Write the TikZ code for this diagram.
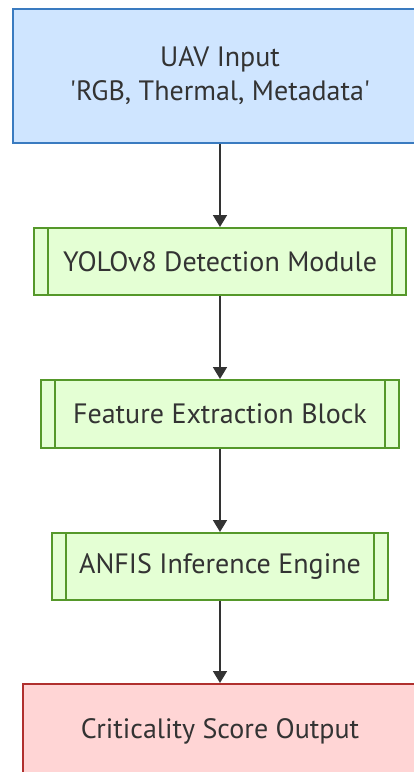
\documentclass[tikz,border=0pt]{standalone}
\usepackage{fontspec}
\setmainfont{PT Sans}
\usetikzlibrary{arrows.meta}
\definecolor{bluefill}{HTML}{CFE5FF}
\definecolor{blueline}{HTML}{3A7BC0}
\definecolor{greenfill}{HTML}{E4FFD4}
\definecolor{greenline}{HTML}{55982A}
\definecolor{redfill}{HTML}{FFD5D5}
\definecolor{redline}{HTML}{B0302E}
\definecolor{ink}{HTML}{333333}
\tikzset{
  box/.style={rectangle, inner sep=0pt, line width=2pt, text=ink, align=center,
    font=\fontsize{28}{34}\selectfont},
  inbox/.style={box, fill=bluefill, draw=blueline},
  outbox/.style={box, fill=redfill, draw=redline},
  subbox/.style={box, fill=greenfill, draw=greenline,
    path picture={
      \draw[greenline, line width=2pt]
        ([xshift=14pt]path picture bounding box.north west) -- ([xshift=14pt]path picture bounding box.south west)
        ([xshift=-14pt]path picture bounding box.north east) -- ([xshift=-14pt]path picture bounding box.south east);
    }},
  arr/.style={draw=ink, line width=1.8pt, -{Triangle[length=12pt,width=14pt]}}
}
\begin{document}
\begin{tikzpicture}[x=1pt,y=-1pt]
\useasboundingbox (0,0) rectangle (414,772);
\clip (0,0) rectangle (414,772);
\node[inbox, minimum width=414pt, minimum height=134pt] (uav) at (220,76) {UAV Input\\\textquotesingle RGB, Thermal, Metadata\textquotesingle};
\node[subbox, minimum width=372pt, minimum height=67pt] (yolo) at (220,261.5) {YOLOv8 Detection Module};
\node[subbox, minimum width=358pt, minimum height=68pt] (feat) at (220,414) {Feature Extraction Block};
\node[subbox, minimum width=336pt, minimum height=67pt] (anfis) at (220,566.5) {ANFIS Inference Engine};
\node[outbox, minimum width=394pt, minimum height=95pt] (out) at (220,731.5) {Criticality Score Output};
\draw[arr] (uav) -- (yolo);
\draw[arr] (yolo) -- (feat);
\draw[arr] (feat) -- (anfis);
\draw[arr] (anfis) -- (out);
\end{tikzpicture}
\end{document}
